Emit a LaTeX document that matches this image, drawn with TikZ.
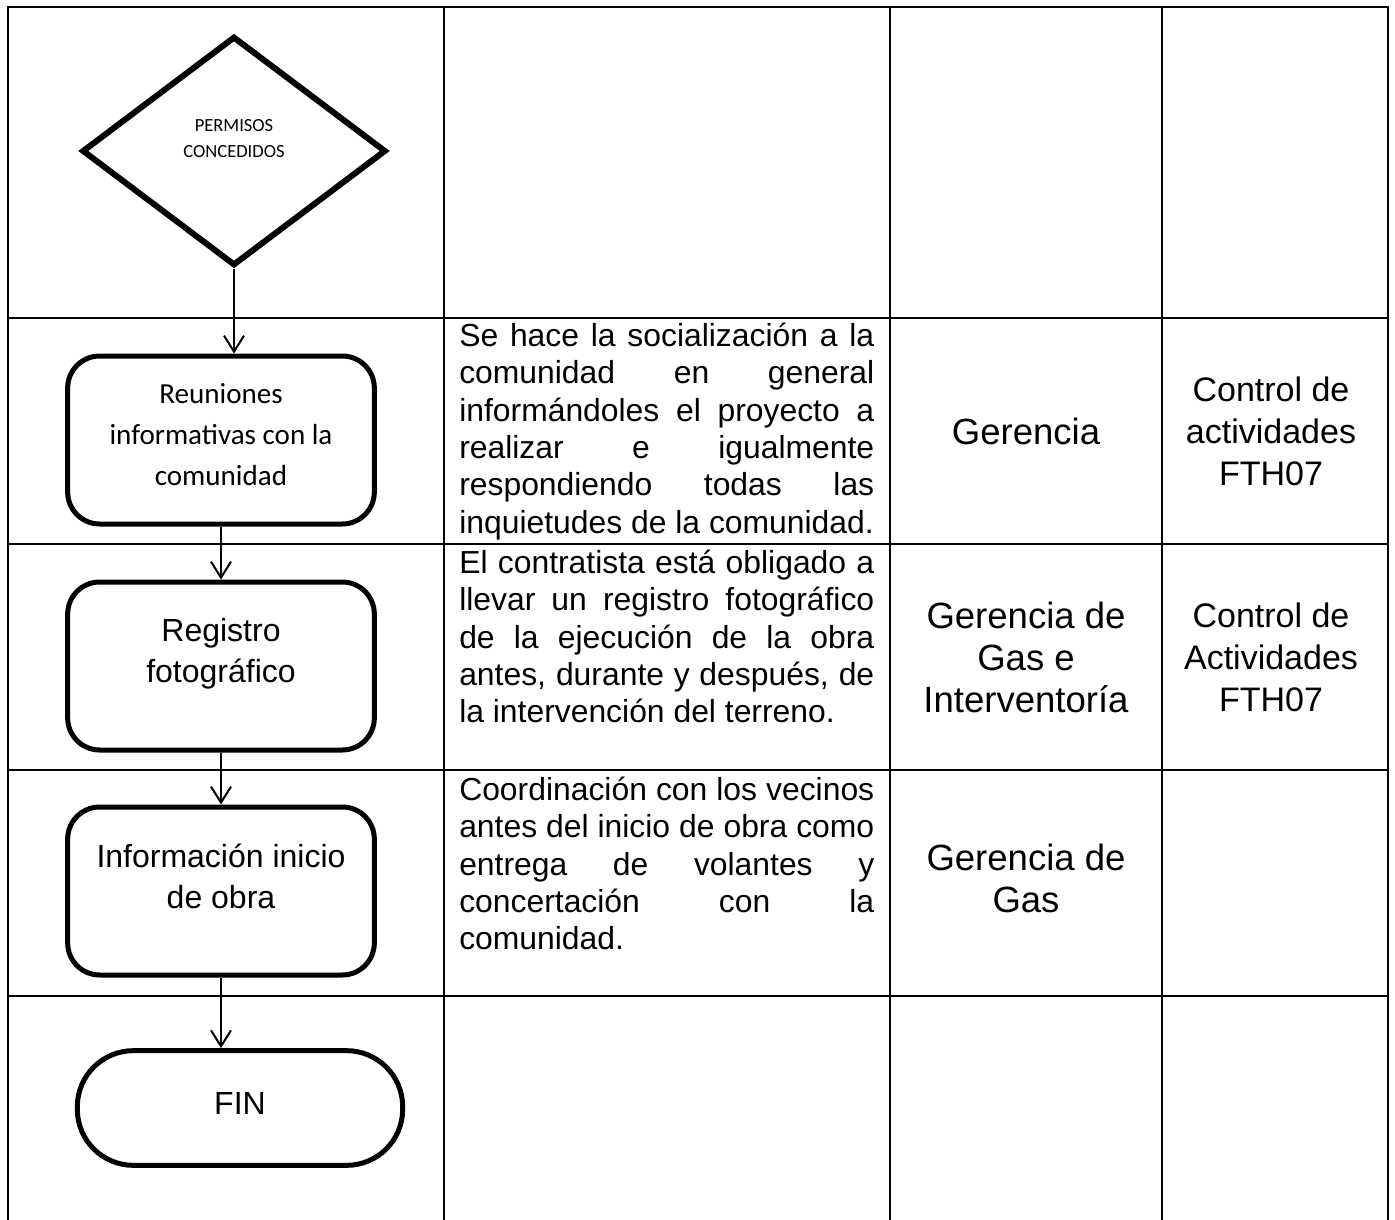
\documentclass[tikz,border=0pt]{standalone}
\usepackage{fontspec}
\setmainfont{Liberation Sans}
\newfontfamily\calibri{Carlito}
\usetikzlibrary{positioning,arrows.meta,shapes.geometric}

\begin{document}
\begin{tikzpicture}[x=0.75pt,y=-0.75pt,
  grid/.style={line width=1.5pt,line cap=rect},
  decis/.style={draw,diamond,line width=4.5pt,minimum width=228pt,minimum height=172pt,
    inner sep=0pt,align=center,font={\calibri\fontsize{13.9}{20}\selectfont}},
  proc/.style={draw,fill=white,line width=3.75pt,rounded corners=24pt,
    minimum width=230pt,minimum height=126pt,align=center},
  term/.style={draw,fill=white,line width=3.75pt,rounded corners=42pt,
    minimum width=244pt,minimum height=86pt,align=center},
  desc/.style={anchor=north west,inner sep=0pt,text width=311.25pt,align=justify,
    font=\fontsize{23.9}{28}\selectfont},
  who/.style={align=center,font=\fontsize{27.4}{31.5}\selectfont},
  rec/.style={align=center,font=\fontsize{25.5}{31.5}\selectfont},
  flow/.style={line width=1.5pt,-{Straight Barb[length=12pt,width=15pt]}}]

\useasboundingbox (0,0) rectangle (1395,1220);

% table
\foreach \x in {8,444,890,1162,1388}
  \draw[grid] (\x,7) -- (\x,1220);
\foreach \y in {7,318,544,770,996}
  \draw[grid] (8,\y) -- (1388,\y);

% flow column
\node[decis,text depth=19pt] (permisos) at (234,151) {PERMISOS\\CONCEDIDOS};
\node[proc,text depth=9pt,font={\calibri\fontsize{21.8}{30.75}\selectfont}] (reuniones) at (221,440)
  {Reuniones\\informativas con la\\comunidad};
\node[proc,text depth=23pt,font=\fontsize{24}{30.75}\selectfont] (registro) at (221,666)
  {Registro\\fotográfico};
\node[proc,text depth=22.5pt,font=\fontsize{24}{30.75}\selectfont] (inicio) at (221,891)
  {Información inicio\\de obra};
\node[term,text depth=7.5pt,font=\fontsize{24}{28}\selectfont] (fin) at (240,1108) {FIN};

\draw[flow] (permisos.south) -- (permisos.south |- reuniones.north);
\draw[flow] (reuniones) -- (registro);
\draw[flow] (registro) -- (inicio);
\draw[flow] (inicio.south) -- (inicio.south |- fin.north);

% descriptions
\node[desc] (socializa) at (459,320)
  {\strut Se hace la socialización a la\linebreak comunidad en general\linebreak
   informándoles el proyecto a\linebreak realizar e igualmente\linebreak
   respondiendo todas las\linebreak inquietudes de la comunidad.};
\node[desc] (fotos) at (459,547)
  {\strut El contratista está obligado a\linebreak llevar un registro fotográfico\linebreak
   de la ejecución de la obra\linebreak antes, durante y después, de\linebreak
   la intervención del terreno.};
\node[desc] (vecinos) at (459,774)
  {\strut Coordinación con los vecinos\linebreak antes del inicio de obra como\linebreak
   entrega de volantes y\linebreak concertación con la\linebreak comunidad.};

% responsables y registros
\node[who] (ger2) at (1026,431) {Gerencia};
\node[who] (ger3) at (1026,657) {Gerencia de\\Gas e\\Interventoría};
\node[who] (ger4) at (1026,878) {Gerencia de\\Gas};
\node[rec] (ctl2) at (1271,431) {Control de\\actividades\\FTH07};
\node[rec] (ctl3) at (1271,657) {Control de\\Actividades\\FTH07};

\end{tikzpicture}
\end{document}
